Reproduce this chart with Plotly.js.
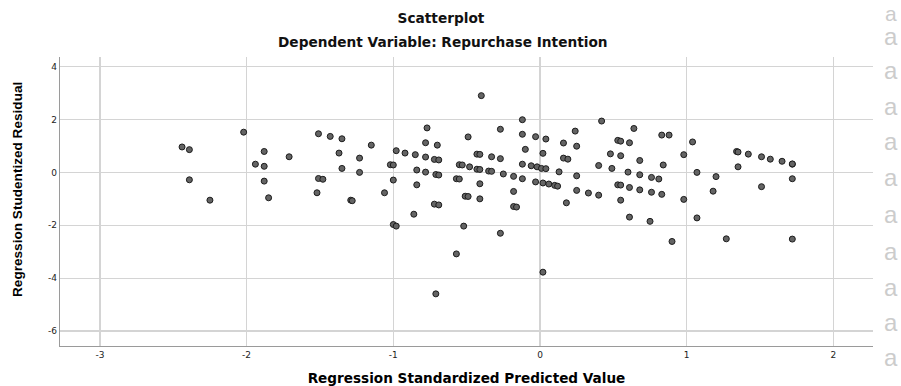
<!DOCTYPE html>
<html>
<head>
<meta charset="utf-8">
<script src="https://cdn.plot.ly/plotly-3.0.1.min.js"></script>
<style>
  html, body { margin: 0; padding: 0; background: #ffffff; }
  #chart { width: 901px; height: 386px; }
</style>
</head>
<body>
<div id="chart"></div>
<script>
// Regression standardized predicted value (x) for each case
const predicted = [-2.44,-2.39,-2.39,-2.25,-2.02,-1.94,-1.88,-1.88,-1.88,-1.85,
  -1.71,-1.51,-1.43,-1.35,-1.37,-1.35,-1.51,-1.48,-1.52,-1.29,
  -1.28,-1.23,-1.23,-1.15,-1.06,-0.98,-0.92,-0.85,-0.77,-0.78,
  -0.70,-0.78,-0.72,-0.69,-1.02,-1.00,-0.84,-0.78,-0.71,-0.69,
  -1.00,-0.84,-0.72,-0.69,-0.86,-1.00,-0.98,-0.49,-0.40,-0.27,
  -0.12,-0.12,-0.03,0.04,-0.10,-0.43,-0.41,-0.33,-0.27,-0.55,
  -0.53,-0.48,-0.43,-0.41,-0.35,-0.33,-0.25,-0.12,-0.06,-0.02,
  0.01,0.04,-0.57,-0.55,-0.41,-0.18,-0.12,-0.03,0.02,0.06,
  0.10,0.12,-0.51,-0.49,-0.41,-0.18,-0.18,-0.16,-0.52,-0.27,
  -0.57,-0.71,0.02,0.16,0.24,0.42,0.25,0.02,0.16,0.19,
  0.13,0.40,0.48,0.55,0.53,0.55,0.61,0.64,0.49,0.60,
  0.25,0.25,0.33,0.40,0.18,0.53,0.55,0.61,0.55,0.61,
  0.68,0.68,0.68,0.83,0.88,0.84,1.04,0.98,0.76,0.81,
  1.07,1.20,1.34,1.35,1.42,1.51,1.57,1.65,1.72,1.72,
  1.35,1.72,1.51,0.76,0.83,0.98,1.18,0.75,1.07,0.90,
  1.27,1.72];

// Regression studentized residual (y) for each case
const residual = [0.96,0.86,-0.28,-1.05,1.52,0.31,0.79,0.23,-0.33,-0.96,
  0.59,1.46,1.36,1.27,0.73,0.15,-0.23,-0.26,-0.77,-1.05,
  -1.07,0.54,0.00,1.03,-0.77,0.82,0.73,0.67,1.68,1.12,
  1.03,0.58,0.49,0.47,0.29,0.28,0.09,0.01,-0.08,-0.10,
  -0.29,-0.47,-1.20,-1.23,-1.58,-1.97,-2.03,1.34,2.90,1.63,
  1.99,1.44,1.35,1.26,0.87,0.69,0.68,0.59,0.52,0.29,
  0.28,0.21,0.12,0.11,0.05,0.04,-0.06,0.31,0.25,0.21,
  0.15,0.14,-0.24,-0.25,-0.43,-0.15,-0.24,-0.36,-0.40,-0.44,
  -0.49,-0.52,-0.90,-0.91,-1.00,-0.72,-1.29,-1.31,-2.03,-2.30,
  -3.08,-4.59,-3.77,1.11,1.56,1.94,0.99,0.72,0.54,0.50,
  0.02,0.26,0.70,0.63,1.21,1.18,1.12,1.66,0.15,0.01,
  -0.13,-0.68,-0.78,-0.86,-1.15,-0.47,-0.48,-0.57,-1.05,-1.69,
  0.45,-0.09,-0.66,1.41,1.41,0.28,1.15,0.67,-0.19,-0.25,
  0.00,-0.16,0.79,0.77,0.69,0.59,0.50,0.42,0.31,0.32,
  0.21,-0.24,-0.54,-0.75,-0.83,-1.02,-0.71,-1.85,-1.72,-2.61,
  -2.51,-2.52];

const xTickVals = [-3, -2, -1, 0, 1, 2];
const xTickText = ["-3", "-2", "-1", "0", "1", "2"];
const yTickVals = [-6, -4, -2, 0, 2, 4];
const yTickText = ["-6", "-4", "-2", "0", "2", "4"];

const chartTitle = "Scatterplot";
const chartSubtitle = "Dependent Variable: Repurchase Intention";
const xTitle = "Regression Standardized Predicted Value";
const yTitle = "Regression Studentized Residual";

// background watermark letters on the right edge (y in pixels from top)
const watermarkRows = [36, 71, 106, 141, 177, 214, 251, 287, 322, 357];

const W = 901, H = 386;
const M = { l: 60, r: 28, t: 57, b: 40 };
const plotH = H - M.t - M.b;
const plotW = W - M.l - M.r;
const px = function (x) { return (x - M.l) / plotW; };
const py = function (y) { return (H - M.b - y) / plotH; };

const annotations = [
  {
    text: chartSubtitle, xref: "paper", yref: "paper",
    x: px(443), y: py(42),
    xanchor: "center", yanchor: "middle", showarrow: false,
    font: { family: "DejaVu Sans", size: 13.7, color: "#111111", weight: "bold" }
  },
  {
    text: yTitle, xref: "paper", yref: "paper",
    x: px(18), y: py(190), textangle: -90,
    xanchor: "center", yanchor: "middle", showarrow: false,
    font: { family: "Liberation Sans", size: 13.6, color: "#000000", weight: "bold" }
  },
  {
    text: "a", xref: "paper", yref: "paper",
    x: px(891), y: py(0),
    xanchor: "center", yanchor: "top", showarrow: false,
    font: { family: "Liberation Sans", size: 21, color: "#cccccc" }
  }
];
watermarkRows.forEach(function (r) {
  annotations.push({
    text: "a", xref: "paper", yref: "paper",
    x: px(891), y: py(r),
    xanchor: "center", yanchor: "middle", showarrow: false,
    font: { family: "Liberation Sans", size: 24, color: "#cccccc" }
  });
});

const trace = {
  type: "scatter",
  mode: "markers",
  x: predicted,
  y: residual,
  marker: {
    size: 6,
    color: "rgb(100,100,100)",
    line: { color: "#1c1c1c", width: 1 }
  },
  hoverinfo: "skip",
  showlegend: false
};

const layout = {
  width: W,
  height: H,
  margin: M,
  paper_bgcolor: "#ffffff",
  plot_bgcolor: "#ffffff",
  showlegend: false,
  title: {
    text: chartTitle,
    xref: "container", yref: "container",
    x: 441 / W, y: 1 - 18 / H,
    xanchor: "center", yanchor: "middle",
    font: { family: "DejaVu Sans", size: 13.7, color: "#111111", weight: "bold" }
  },
  xaxis: {
    range: [-3.272, 2.27],
    tickvals: xTickVals,
    ticktext: xTickText,
    ticks: "",
    showgrid: true,
    gridcolor: "#d4d4d4",
    gridwidth: 1.4,
    zeroline: false,
    showline: true,
    linecolor: "#9a9a9a",
    linewidth: 1.3,
    mirror: false,
    tickfont: { family: "DejaVu Sans", size: 9, color: "#222222" },
    title: {
      text: xTitle,
      standoff: 14,
      font: { family: "DejaVu Sans", size: 13.6, color: "#000000", weight: "bold" }
    },
    fixedrange: true
  },
  yaxis: {
    range: [-6.56, 4.36],
    tickvals: yTickVals,
    ticktext: yTickText,
    ticks: "",
    showgrid: true,
    gridcolor: "#d4d4d4",
    gridwidth: 1.4,
    zeroline: false,
    showline: true,
    linecolor: "#9a9a9a",
    linewidth: 1.3,
    mirror: false,
    tickfont: { family: "DejaVu Sans", size: 9, color: "#222222" },
    fixedrange: true
  },
  annotations: annotations
};

Plotly.newPlot("chart", [trace], layout, { staticPlot: true, displayModeBar: false });
</script>
</body>
</html>
